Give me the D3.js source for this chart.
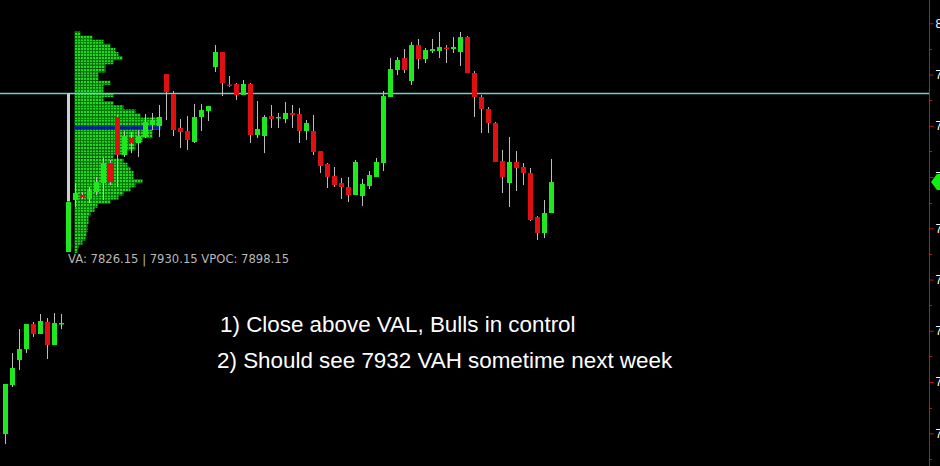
<!DOCTYPE html>
<html><head><meta charset="utf-8">
<script src="https://cdn.jsdelivr.net/npm/d3@7/dist/d3.min.js"></script>
<style>html,body{margin:0;padding:0;background:#000;overflow:hidden}</style>
</head><body>
<svg id="c" width="940" height="466"></svg>
<script>
// ---- data ----
const opens  = [7599.3,7647.1,7671.5,7682.2,7706.6,7696.9,7708.6,7686.1,7706.6,7776.9,
 7827.6,7832.5,7829.5,7835.4,7844.2,7863.7,7908.6,7871.5,7888.1,7883.2,
 7889.1,7900.8,7899.8,7950.5,7931.0,7897.8,7894.9,7884.2,7908.6,7914.4,
 7957.3,7972.0,7940.3,7940.8,7930.0,7940.8,7891.0,7890.0,7909.5,7907.6,
 7906.6,7912.5,7911.5,7894.9,7894.9,7875.4,7862.7,7851.0,7844.2,7840.3,
 7832.5,7831.5,7841.2,7850.0,7863.7,7928.1,7954.4,7966.1,7943.7,7978.8,
 7965.1,7973.0,7973.0,7976.4,7974.9,7972.0,7986.6,7951.5,7928.1,7916.4,
 7902.7,7865.6,7844.2,7864.7,7859.8,7853.9,7811.0,7795.4,7814.9];
const highs  = [7648.1,7678.3,7701.7,7706.6,7708.6,7716.4,7712.5,7717.3,7716.4,7825.6,
 7844.2,7835.4,7840.3,7850.0,7868.6,7866.6,7910.5,7894.9,7893.9,7895.9,
 7911.5,7912.5,7920.3,7950.5,7933.9,7906.6,7909.5,7921.2,7921.2,7919.3,
 7978.8,7972.0,7948.6,7941.7,7944.7,7941.7,7924.2,7910.5,7920.3,7912.5,
 7923.2,7920.3,7917.3,7905.6,7910.5,7875.4,7863.7,7859.8,7849.1,7850.0,
 7866.6,7848.1,7855.9,7868.6,7933.9,7966.1,7967.1,7974.9,7981.7,7984.7,
 7975.9,7984.7,7991.5,7978.8,7986.6,7991.5,7987.6,7953.4,7930.0,7918.3,
 7903.7,7876.4,7889.1,7875.4,7863.7,7858.8,7812.0,7827.6,7867.6];
const lows   = [7589.5,7645.1,7661.7,7678.3,7694.0,7696.9,7672.5,7686.1,7701.7,7776.9,
 7820.8,7828.6,7824.7,7832.5,7827.6,7842.2,7840.3,7869.5,7873.4,7869.5,
 7888.1,7895.9,7889.1,7905.6,7890.0,7878.3,7876.4,7883.2,7894.9,7904.7,
 7952.5,7929.0,7937.8,7925.1,7930.0,7883.2,7888.1,7873.4,7897.8,7897.8,
 7902.7,7897.8,7883.2,7886.1,7871.5,7853.9,7839.3,7840.3,7828.6,7825.6,
 7832.5,7821.7,7838.3,7850.0,7855.9,7928.1,7949.5,7951.5,7939.8,7955.4,
 7961.2,7971.0,7966.1,7961.2,7971.0,7958.3,7951.5,7908.6,7893.0,7893.0,
 7864.7,7834.4,7820.8,7836.4,7842.2,7807.1,7788.6,7790.5,7814.9];
const closes = [7648.1,7663.7,7682.2,7706.6,7696.9,7709.6,7686.1,7707.6,7707.6,7825.6,
 7834.4,7830.5,7836.4,7845.1,7863.7,7845.1,7871.5,7890.0,7883.2,7890.0,
 7903.7,7905.6,7908.6,7932.9,7895.9,7893.9,7886.1,7908.6,7915.4,7919.3,
 7972.0,7941.7,7939.3,7930.0,7940.8,7891.0,7896.9,7908.6,7906.6,7908.6,
 7912.5,7910.5,7894.9,7902.7,7874.4,7860.8,7850.0,7842.2,7840.3,7832.5,
 7864.7,7843.2,7852.0,7864.7,7929.0,7955.4,7964.2,7954.4,7978.8,7965.1,
 7973.9,7974.9,7976.9,7975.9,7976.9,7986.6,7951.5,7928.1,7916.4,7902.7,
 7864.7,7850.0,7864.7,7858.8,7853.9,7808.1,7795.4,7814.9,7845.1];

// volume profile (price level, volume)
const profilePrices = [7990,7986,7982,7978,7974,7970,7966,7962,7958,7954,7950,7946,7942,7938,7934,
 7930,7926,7922,7918,7914,7910,7906,7902,7898,7894,7890,7886,7882,7878,7874,7870,7866,7862,7858,
 7854,7850,7846,7842,7838,7834,7830,7826,7822,7818,7814,7810,7806,7802,7798,7794,7790,7786,7782,7778];
const profileVolumes = [6,18,29,36,41,44,48,39,31,31,24,24,36,29,29,
 39,29,39,49,61,66,86,86,86,78,78,68,61,61,53,39,49,53,56,
 59,59,68,61,56,49,44,36,23,20,16,14,14,13,13,12,11,8,4,3];

const VAL = 7826.15, VAH = 7930.15, VPOC = 7898.15;
const keyLevel = 7932;
const yTicks = [7600,7650,7700,7750,7800,7850,7900,7950,8000];
const infoText = "VA: 7826.15 | 7930.15 VPOC: 7898.15";
const notes = ["1) Close above VAL, Bulls in control", "2) Should see 7932 VAH sometime next week"];

// ---- drawing ----
const svg = d3.select("#c");
svg.append("rect").attr("width",940).attr("height",466).attr("fill","#000");

const y = d3.scaleLinear().domain([7600,8000]).range([433.3,23.3]);
const x = d3.scaleLinear().domain([0,78]).range([5,551]);
const xv = d3.scaleLinear().domain([0,100]).range([74.5,174.5]);

const defs = svg.append("defs");
const pat = defs.append("pattern").attr("id","vp").attr("patternUnits","userSpaceOnUse")
  .attr("width",3).attr("height",3);
pat.append("rect").attr("width",3).attr("height",3).attr("fill","#067a06");
pat.append("rect").attr("width",2).attr("height",2).attr("fill","#22d822");

// volume profile rows
const step = 4;
svg.append("g").selectAll("rect").data(profilePrices).join("rect")
  .attr("x", xv(0))
  .attr("y", p => y(p + step/2))
  .attr("width", (p,i) => xv(profileVolumes[i]) - xv(0))
  .attr("height", p => y(p - step/2) - y(p + step/2))
  .attr("fill","url(#vp)");

// POC band
const pocIdx = d3.maxIndex(profileVolumes);
svg.append("rect").attr("x", xv(0)).attr("y", y(VPOC)-1.5)
  .attr("width", xv(profileVolumes[pocIdx]) - xv(0)).attr("height",3.5)
  .attr("fill","#0b1aa0");

// cyan level line
svg.append("line").attr("x1",0).attr("x2",929).attr("y1",Math.round(y(keyLevel))+0.5).attr("y2",Math.round(y(keyLevel))+0.5)
  .attr("stroke","#6fd0d0").attr("stroke-width",1.3);

// candles
const idx = d3.range(opens.length);
const cg = svg.append("g");
cg.selectAll("rect.w").data(idx).join("rect").attr("class","w")
  .attr("x", i => x(i)).attr("width",1)
  .attr("y", i => y(highs[i])).attr("height", i => Math.max(1, y(lows[i]) - y(highs[i])))
  .attr("fill","#bdbdbd");
cg.selectAll("rect.b").data(idx).join("rect").attr("class","b")
  .attr("x", i => x(i)-2).attr("width",5)
  .attr("y", i => y(Math.max(opens[i],closes[i])))
  .attr("height", i => Math.max(1.5, Math.abs(y(opens[i]) - y(closes[i]))))
  .attr("fill", i => closes[i] >= opens[i] ? "#1ee81e" : "#e01010");

// value-area bar
svg.append("rect").attr("x", x(9)-1).attr("width",3)
  .attr("y", y(VAH)-1.5).attr("height", y(VAL) - y(VAH) + 1.5).attr("fill","#cfcfcf");

// info text
svg.append("text").attr("x",68).attr("y",263).text(infoText)
  .attr("fill","#b8b8b8").attr("font-family","DejaVu Sans, sans-serif").attr("font-size",11.6);

// notes
svg.selectAll("text.n").data(notes).join("text").attr("class","n")
  .attr("x",(d,i)=> i===0?220:217).attr("y",(d,i)=>332+i*36).text(d=>d)
  .attr("fill","#ffffff").attr("font-family","Liberation Sans, Arial, sans-serif").attr("font-size",22.4);

// right axis
svg.append("line").attr("x1",929.5).attr("x2",929.5).attr("y1",0).attr("y2",466)
  .attr("stroke","#d01010").attr("stroke-width",1);
const minor = yTicks.map(v=>v-25).concat([8025]);
svg.append("g").selectAll("line").data(minor).join("line")
  .attr("x1",929.5).attr("x2",932).attr("y1",d=>Math.round(y(d))+0.5).attr("y2",d=>Math.round(y(d))+0.5)
  .attr("stroke","#d01010");
const ax = d3.axisRight(y).tickValues(yTicks).tickSize(4).tickFormat(d3.format(".2f"));
const ag = svg.append("g").attr("transform","translate(929.5,0)").call(ax);
ag.select(".domain").remove();
ag.selectAll(".tick line").attr("stroke","#d01010");
ag.selectAll(".tick text").attr("fill","#ffffff").attr("x",6)
  .attr("font-family","Liberation Sans, Arial, sans-serif").attr("font-size",12);

// last price marker
const lp = y(closes[closes.length-1]);
svg.append("path").attr("d",`M931,${lp} L937,${lp-8} L940,${lp-8} L940,${lp+8} L937,${lp+8} Z`)
  .attr("fill","#11ee11");
</script>
</body></html>
